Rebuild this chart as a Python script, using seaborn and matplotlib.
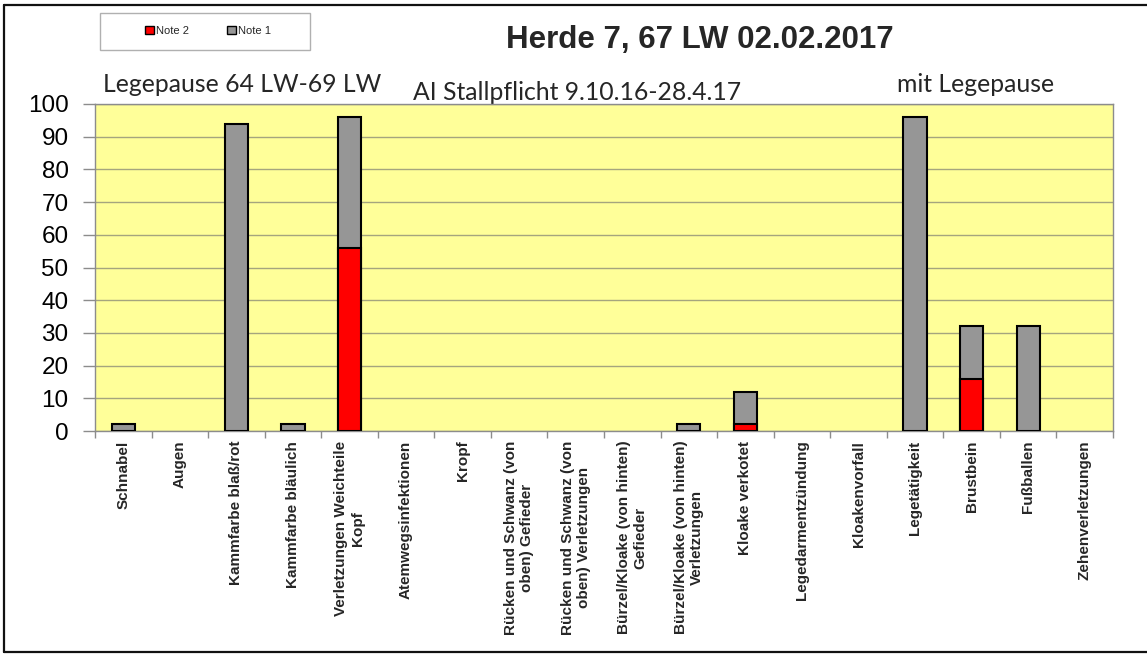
import matplotlib
matplotlib.use("Agg")
import matplotlib.pyplot as plt
from matplotlib.patches import Patch, Rectangle
from matplotlib.lines import Line2D
import numpy as np
import pandas as pd
import seaborn as sns

categories = [
    "Schnabel",
    "Augen",
    "Kammfarbe blaß/rot",
    "Kammfarbe bläulich",
    "Verletzungen Weichteile\nKopf",
    "Atemwegsinfektionen",
    "Kropf",
    "Rücken und Schwanz (von\noben) Gefieder",
    "Rücken und Schwanz (von\noben) Verletzungen",
    "Bürzel/Kloake (von hinten)\nGefieder",
    "Bürzel/Kloake (von hinten)\nVerletzungen",
    "Kloake verkotet",
    "Legedarmentzündung",
    "Kloakenvorfall",
    "Legetätigkeit",
    "Brustbein",
    "Fußballen",
    "Zehenverletzungen",
]
note2 = [0, 0, 0, 0, 56, 0, 0, 0, 0, 0, 0, 2, 0, 0, 0, 16, 0, 0]
note1 = [2, 0, 94, 2, 40, 0, 0, 0, 0, 0, 2, 10, 0, 0, 96, 16, 32, 0]
y_ticks = list(range(0, 101, 10))

title = "Herde 7, 67 LW 02.02.2017"
note_left = "Legepause 64 LW-69 LW"
note_mid = "AI Stallpflicht 9.10.16-28.4.17"
note_right = "mit Legepause"

RED = "#FF0000"
GREY = "#969696"
PLOT_BG = "#FFFF99"

sns.set_style("white")
plt.rcParams["font.family"] = ["Liberation Sans", "DejaVu Sans"]

W, H = 1147, 654
fig = plt.figure(figsize=(W / 100, H / 100), dpi=100)
ax = fig.add_axes([95 / W, 1 - 431 / H, (1113 - 95) / W, (431 - 104) / H])
ax.set_facecolor(PLOT_BG)

df = pd.DataFrame({"cat": categories, "note2": note2, "note1": note1})
df["total"] = df["note1"] + df["note2"]

# stacked bars: full height in grey, the Note 2 part in red at the bottom
tot = df[df["total"] > 0]
sns.barplot(data=tot, x="cat", y="total", order=categories, color=GREY,
            saturation=1, width=0.41, edgecolor="black", linewidth=1.5,
            errorbar=None, ax=ax, zorder=3)
red = df[df["note2"] > 0]
sns.barplot(data=red, x="cat", y="note2", order=categories, color=RED,
            saturation=1, width=0.41, edgecolor="black", linewidth=1.5,
            errorbar=None, ax=ax, zorder=4)

ax.set_xlim(-0.5, len(categories) - 0.5)
ax.set_ylim(0, 100)
ax.set_yticks(y_ticks)
ax.set_xlabel("")
ax.set_ylabel("")

ax.yaxis.grid(True, color="#A5A57E", linewidth=1.0)
ax.xaxis.grid(False)
ax.set_axisbelow(True)

for s in ax.spines.values():
    s.set_color("#8C8C8C")
    s.set_linewidth(1.0)

ax.tick_params(axis="y", direction="out", length=9, width=1, color="#8C8C8C",
               pad=10, labelsize=17.5, labelcolor="black", left=True)
ax.set_xticks(range(len(categories)))
ax.set_xticklabels(categories)
ax.tick_params(axis="x", which="major", length=0, pad=7)
ax.set_xticks(np.arange(-0.5, len(categories), 1.0), minor=True)
ax.tick_params(axis="x", which="minor", direction="out", length=5, width=1,
               color="#8C8C8C", bottom=True)
for lab in ax.get_xticklabels():
    lab.set_rotation(90)
    lab.set_ha("center")
    lab.set_va("top")
    lab.set_multialignment("center")
    lab.set_fontsize(11)
    lab.set_fontweight("bold")

# title and annotations
fig.text(700 / W, 1 - 40 / H, title, ha="center", va="center",
         fontsize=22.5, fontweight="bold")
fig.text(103 / W, 1 - 85 / H, note_left, ha="left", va="center",
         fontsize=17.8, family=["Lato", "DejaVu Sans"])
fig.text(413 / W, 1 - 93 / H, note_mid, ha="left", va="center",
         fontsize=17.8, family=["Lato", "DejaVu Sans"], zorder=-1)
fig.text(897 / W, 1 - 84 / H, note_right, ha="left", va="center",
         fontsize=17.8, family=["Lato", "DejaVu Sans"])

# legend box
fig.patches.append(Rectangle((100 / W, 1 - 50 / H), 210 / W, 37 / H,
                             transform=fig.transFigure, facecolor="white",
                             edgecolor="#B0B0B0", linewidth=1.0, zorder=1))
handles = [Patch(facecolor=RED, edgecolor="black", linewidth=1.0),
           Patch(facecolor=GREY, edgecolor="black", linewidth=1.0)]
fig.legend(handles, ["Note 2", "Note 1"], loc="center",
           bbox_to_anchor=(208 / W, 1 - 31 / H), ncol=2, frameon=False,
           fontsize=8, handlelength=0.8, handleheight=0.8,
           handletextpad=0.15, columnspacing=3.5, borderaxespad=0)

# outer chart frame
lw = 1.6
fig.add_artist(Line2D([4 / W, 4 / W], [0.0 + 2 / H, 1 - 5 / H], color="#111111",
                      lw=lw, transform=fig.transFigure))
fig.add_artist(Line2D([4 / W, 1.0], [1 - 5 / H, 1 - 5 / H], color="#111111",
                      lw=lw, transform=fig.transFigure))
fig.add_artist(Line2D([4 / W, 1.0], [2 / H, 2 / H], color="#111111",
                      lw=lw, transform=fig.transFigure))

fig.savefig("out.png", dpi=100, facecolor="white")
